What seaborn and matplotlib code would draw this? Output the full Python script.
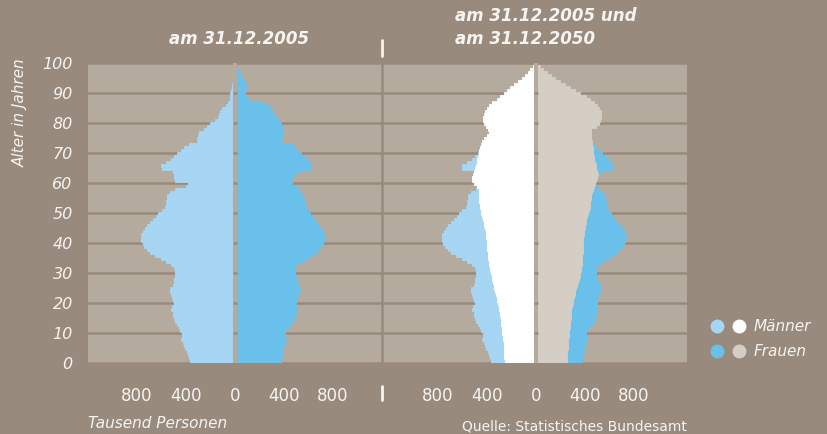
"""
Bevoelkerungspyramide Deutschland 2005 und 2050 (seaborn / matplotlib)
"""

import matplotlib
matplotlib.use("Agg")
import matplotlib.pyplot as plt
from matplotlib.lines import Line2D
from matplotlib.legend_handler import HandlerTuple
import numpy as np
import seaborn as sns

# Alter in Jahren (0-100), Werte in Tausend Personen
ages = list(range(101))

men_2005 = [365, 370, 378, 385, 395, 405, 415, 425, 440, 435,
            432, 445, 460, 475, 490, 500, 505, 510, 520, 515,
            500, 505, 515, 520, 528, 530, 510, 500, 495, 490,
            490, 492, 500, 520, 560, 605, 650, 690, 718, 740,
            755, 765, 768, 765, 750, 735, 718, 695, 672, 645,
            625, 600, 575, 565, 560, 558, 555, 530, 490, 400,
            380, 490, 495, 500, 510, 600, 605, 560, 520, 495,
            473, 440, 420, 378, 312, 310, 300, 290, 250, 225,
            205, 165, 140, 133, 125, 105, 75, 55, 42, 40,
            38, 30, 25, 22, 20, 18, 15, 12, 10, 8, 6]

women_2005 = [372, 376, 380, 385, 390, 392, 400, 410, 417, 412,
              405, 408, 430, 455, 473, 485, 492, 498, 500, 498,
              497, 500, 510, 518, 525, 528, 520, 510, 500, 498,
              492, 488, 487, 505, 545, 585, 625, 660, 680, 700,
              715, 725, 732, 728, 715, 700, 682, 665, 648, 630,
              615, 598, 582, 575, 568, 562, 555, 540, 515, 495,
              465, 458, 470, 485, 540, 620, 622, 612, 590, 565,
              540, 510, 480, 470, 378, 380, 388, 392, 392, 385,
              372, 362, 345, 318, 298, 282, 270, 215, 108, 95,
              80, 82, 90, 88, 75, 62, 50, 38, 28, 18, 10]

men_2050 = [255, 256, 257, 258, 260, 261, 263, 265, 268, 271,
            274, 277, 280, 283, 286, 289, 292, 294, 298, 303,
            309, 315, 321, 327, 333, 339, 345, 351, 357, 362,
            367, 372, 377, 382, 386, 389, 391, 394, 396, 398,
            400, 403, 406, 409, 412, 416, 421, 427, 433, 440,
            445, 450, 455, 460, 465, 466, 467, 467, 467, 480,
            505, 520, 523, 518, 510, 500, 492, 485, 478, 472,
            468, 465, 458, 450, 441, 425, 400, 386, 392, 405,
            425, 432, 432, 426, 415, 400, 382, 355, 322, 293,
            265, 238, 212, 180, 148, 118, 92, 68, 45, 28, 12]

women_2050 = [252, 253, 254, 256, 257, 259, 261, 263, 265, 267,
              270, 273, 276, 278, 280, 282, 284, 286, 290, 295,
              300, 305, 310, 315, 322, 330, 338, 346, 354, 358,
              362, 366, 369, 372, 375, 377, 379, 380, 382, 383,
              384, 386, 388, 391, 394, 397, 401, 406, 411, 417,
              424, 431, 438, 441, 444, 447, 450, 455, 462, 470,
              478, 488, 498, 505, 500, 492, 486, 480, 476, 472,
              469, 466, 465, 460, 455, 450, 448, 448, 452, 490,
              515, 525, 530, 532, 528, 515, 495, 470, 440, 405,
              360, 318, 275, 235, 195, 158, 122, 88, 58, 32, 10]

tick_pos = [-800, -400, 0, 400, 800]
tick_labels = ["800", "400", "0", "400", "800"]
legend_labels = ["Männer", "Frauen"]

# Farben
BG = "#988b7e"
PANEL = "#b5aa9e"
TXT = "#f7f4f0"
C_M05 = "#a6d6f3"
C_F05 = "#69c1eb"
C_M50 = "#ffffff"
C_F50 = "#d5cec5"

sns.set_style("white")
plt.rcParams["font.family"] = ["DejaVu Sans"]

W, H = 827, 434
fig = plt.figure(figsize=(W / 100, H / 100), dpi=100, facecolor=BG)
ax1 = fig.add_axes([88 / W, 71 / H, 294 / W, 300 / H])
ax2 = fig.add_axes([382 / W, 71 / H, 305 / W, 300 / H])


def draw_side(ax, values, color, sign, z):
    n_before = len(ax.patches)
    sns.barplot(x=sign * np.array(values), y=ages, orient="y",
                native_scale=True, width=1, color=color, saturation=1,
                errorbar=None, linewidth=0.6, edgecolor=color, ax=ax)
    for p in ax.patches[n_before:]:
        p.set_zorder(z)


def style_panel(ax, xlim, grid_x):
    ax.set_facecolor(PANEL)
    ax.set_xlim(*xlim)
    ax.set_ylim(0, 100)
    ax.set_xticks(tick_pos)
    ax.set_xticklabels(tick_labels, fontsize=12)
    ax.set_xticks(grid_x, minor=True)
    ax.set_yticks(range(0, 101, 10))
    ax.grid(False)
    ax.grid(which="minor", axis="x", color=BG, lw=1.8, zorder=0.5)
    ax.grid(which="major", axis="y", color=BG, lw=1.8, zorder=0.5)
    ax.set_axisbelow(True)
    for s in ax.spines.values():
        s.set_visible(False)
    ax.tick_params(which="both", length=0, colors=TXT)
    ax.tick_params(axis="x", pad=17)
    ax.set_xlabel("")
    ax.set_ylabel("")
    # schmaler Spalt in der Mitte
    ax.axvline(0, color=PANEL, lw=2.9, zorder=5)
    ax.hlines(range(10, 100, 10), -18, 18, color=BG, lw=1.8, zorder=6)


# links: 2005
draw_side(ax1, men_2005, C_M05, -1, 2)
draw_side(ax1, women_2005, C_F05, 1, 2)
style_panel(ax1, (-1200, 1200), [-800, -400, 400, 800, 1200])
ax1.set_yticklabels([str(v) for v in range(0, 101, 10)],
                    fontsize=11.5, style="italic")
ax1.tick_params(axis="y", pad=11)

# rechts: 2005 und 2050
draw_side(ax2, men_2005, C_M05, -1, 2)
draw_side(ax2, women_2005, C_F05, 1, 2)
draw_side(ax2, men_2050, C_M50, -1, 3)
draw_side(ax2, women_2050, C_F50, 1, 3)
style_panel(ax2, (-1257, 1233), [-1257, -800, -400, 400, 800])
ax2.set_yticklabels([])

# Titel und Beschriftungen
fig.text(239 / W, 1 - 39.5 / H, "am 31.12.2005", ha="center", va="center",
         fontsize=12, weight="bold", style="italic", color=TXT)
fig.text(455 / W, 1 - 27.5 / H, "am 31.12.2005 und\nam 31.12.2050",
         ha="left", va="center", fontsize=12, weight="bold", style="italic",
         color=TXT, linespacing=1.3)
fig.text(20 / W, 1 - 113 / H, "Alter in Jahren", rotation=90, ha="center",
         va="center", fontsize=11, style="italic", color=TXT)
fig.text(88 / W, 1 - 423 / H, "Tausend Personen", ha="left", va="center",
         fontsize=11, style="italic", color=TXT)
fig.text(687 / W, 1 - 426 / H, "Quelle: Statistisches Bundesamt",
         ha="right", va="center", fontsize=10, color=TXT)

# Trennstriche
for y0, y1 in [(40, 56), (386, 400)]:
    fig.add_artist(Line2D([382 / W, 382 / W], [1 - y0 / H, 1 - y1 / H],
                          color=TXT, lw=2, transform=fig.transFigure))


# Legende
def dot(c):
    return Line2D([], [], marker="o", ls="", ms=10, color=c, mew=0)


fig.legend(handles=[(dot(C_M05), dot(C_M50)), (dot(C_F05), dot(C_F50))],
           labels=legend_labels,
           handler_map={tuple: HandlerTuple(ndivide=None, pad=0.52)},
           loc="center left", bbox_to_anchor=(710 / W, 1 - 339 / H),
           frameon=False, prop={"style": "italic", "size": 11},
           labelcolor=TXT, handlelength=2.36, handletextpad=0.52,
           labelspacing=0.65, borderpad=0, borderaxespad=0)

fig.savefig("out.png", dpi=100, facecolor=BG)
